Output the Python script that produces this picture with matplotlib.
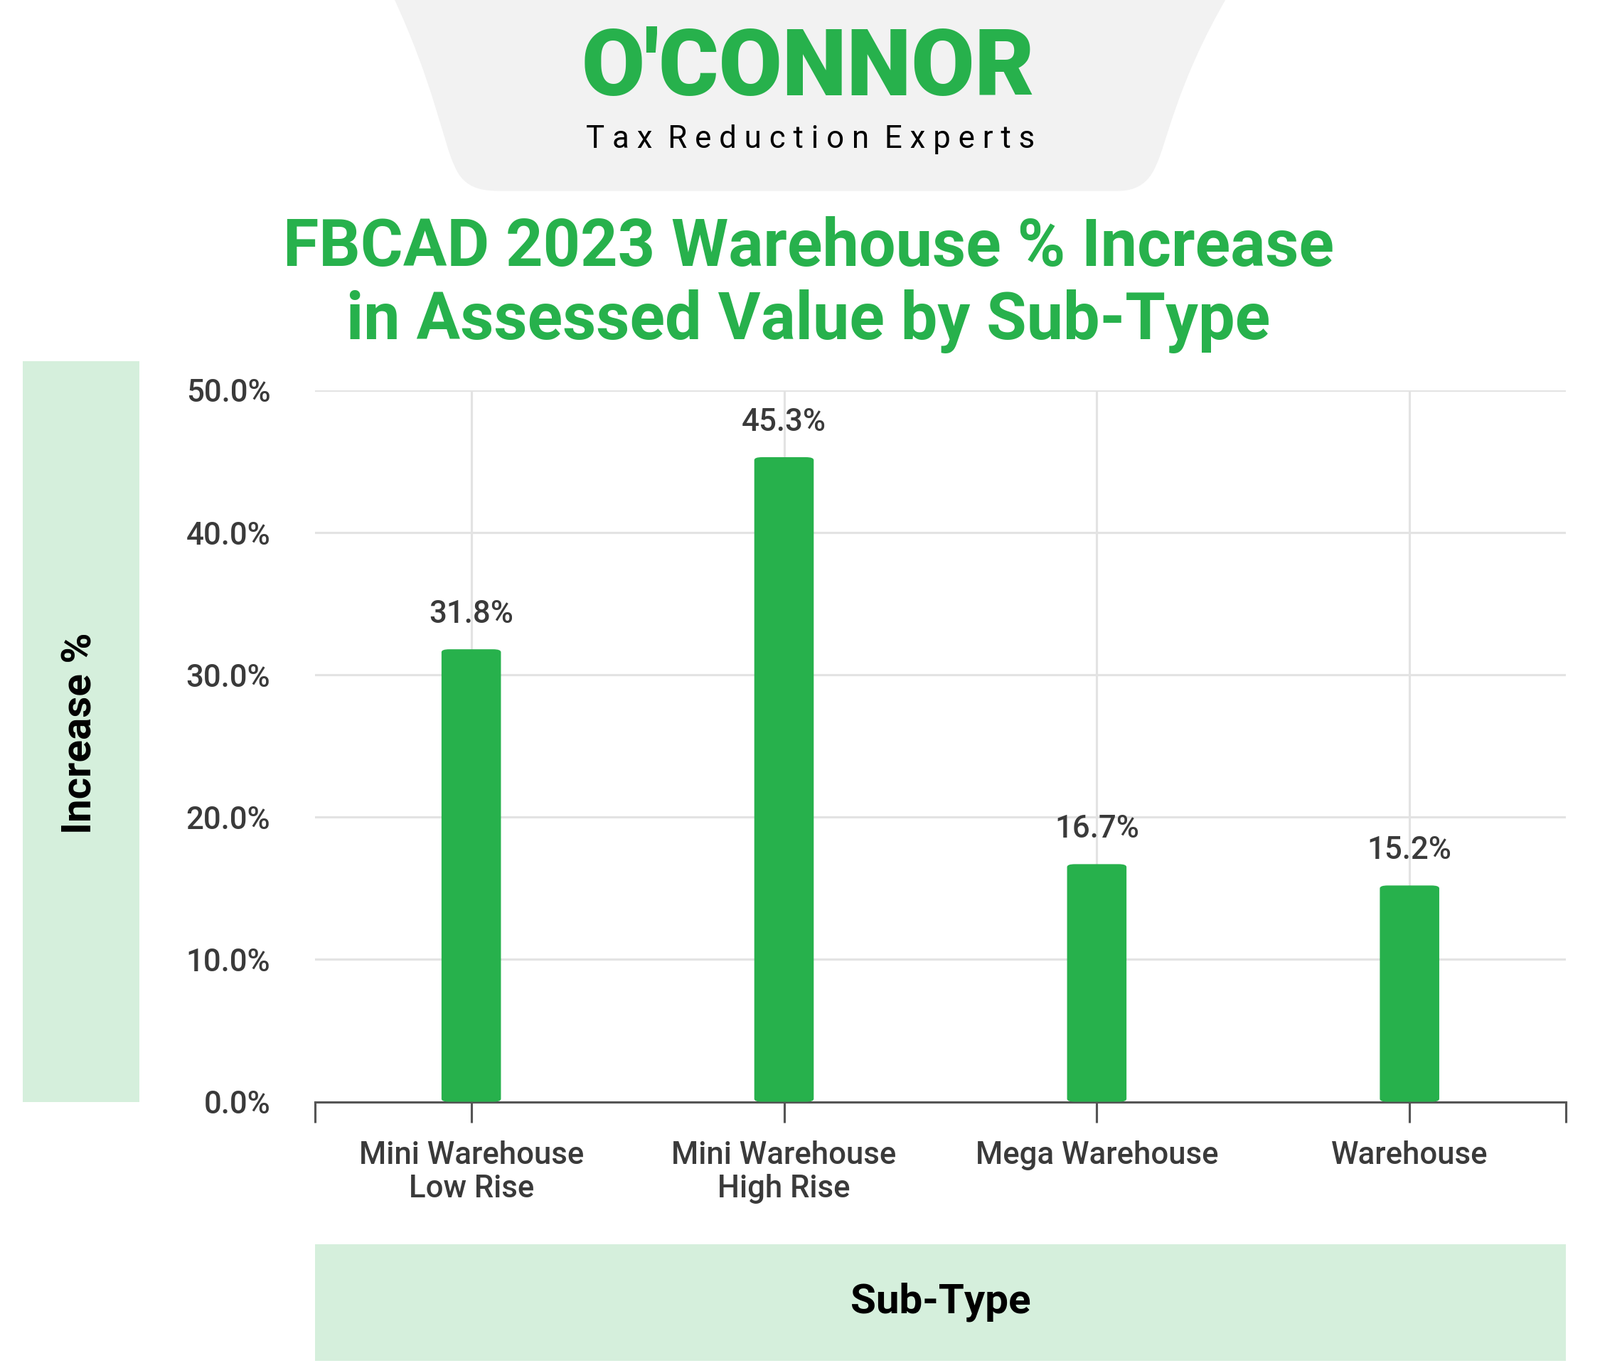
import matplotlib.pyplot as plt
from matplotlib.patches import Rectangle, FancyBboxPatch, PathPatch
from matplotlib.path import Path
import numpy as np

categories = ["Mini Warehouse\nLow Rise", "Mini Warehouse\nHigh Rise", "Mega Warehouse", "Warehouse"]
values = [31.8, 45.3, 16.7, 15.2]
value_labels = ["31.8%", "45.3%", "16.7%", "15.2%"]
yticks = [0, 10, 20, 30, 40, 50]

W, H = 1550.0, 1320.0
def fx(x): return x / W
def fy(y): return 1 - y / H

green = "#27b14c"
panel = "#d5efdc"
txt = "#3a3a3a"
plt.rcParams["font.family"] = "Roboto"

fig = plt.figure(figsize=(15, 12.78), dpi=150)

# logo background with curved sides
verts = [(380, -5), (1190, -5),
         (1140, 80), (1130, 140), (1120, 160),
         (1110, 185), (1090, 185), (1080, 185),
         (490, 185), (470, 185), (450, 185),
         (440, 160), (430, 140), (420, 80), (380, -5), (380, -5)]
codes = [Path.MOVETO, Path.LINETO,
         Path.CURVE4, Path.CURVE4, Path.CURVE4,
         Path.CURVE4, Path.CURVE4, Path.CURVE4,
         Path.LINETO, Path.CURVE4, Path.CURVE4,
         Path.CURVE4, Path.CURVE4, Path.CURVE4, Path.CURVE4, Path.CLOSEPOLY]
fig.patches.append(PathPatch(Path([(fx(a), fy(b)) for a, b in verts], codes),
                             transform=fig.transFigure, fc="#f2f2f2", ec="none"))
fig.text(fx(783), fy(68), "O'CONNOR", color=green, fontsize=62, fontweight="black",
         ha="center", va="center")
fig.text(fx(785), fy(135), "  ".join(" ".join(w) for w in "Tax Reduction Experts".split()),
         color="black", fontsize=21, ha="center", va="center")

fig.text(fx(783), fy(276), "FBCAD 2023 Warehouse % Increase\nin Assessed Value by Sub-Type",
         color=green, fontsize=44, fontweight="bold", ha="center", va="center", linespacing=1.2)

# label panels
fig.patches.append(Rectangle((fx(22), fy(1067)), fx(113), (1067 - 350) / H,
                             transform=fig.transFigure, fc=panel, ec="none"))
fig.text(fx(78), fy(710), "Increase %", rotation=90, fontsize=28, fontweight="bold",
         ha="center", va="center")
fig.patches.append(Rectangle((fx(305), fy(1318)), fx(1212), (1318 - 1205) / H,
                             transform=fig.transFigure, fc=panel, ec="none"))
fig.text(fx(911), fy(1261), "Sub-Type", fontsize=28, fontweight="bold", ha="center", va="center")

ax = fig.add_axes([fx(305), fy(1067), fx(1212), (1067 - 378) / H])
x = np.arange(len(categories))
for xi, v, lab in zip(x, values, value_labels):
    ax.add_patch(FancyBboxPatch((xi - 0.095, 0), 0.19, v, boxstyle="round,pad=0,rounding_size=0.025",
                                mutation_aspect=8, fc=green, ec="none", zorder=3))
    ax.text(xi, v + 1.4, lab, ha="center", va="bottom", fontsize=21, fontweight="medium",
            color=txt, zorder=4)
ax.set_xlim(-0.5, 3.5)
ax.set_ylim(0, 50)
ax.set_yticks(yticks)
ax.set_yticklabels([f"{t:.1f}%" for t in yticks], fontsize=21, fontweight="medium", color=txt)
ax.set_xticks([-0.5, 0, 1, 2, 3, 3.5])
ax.set_xticklabels([""] + categories + [""], fontsize=21, fontweight="medium", color=txt,
                   linespacing=1.15)
ax.tick_params(axis="y", length=0, pad=30)
ax.tick_params(axis="x", length=14, width=1.5, color="#555555", pad=12)
ax.grid(True, color="#e3e3e3", lw=1.5, zorder=0)
for s in ["top", "right", "left"]:
    ax.spines[s].set_visible(False)
ax.spines["bottom"].set_color("#555555")
ax.spines["bottom"].set_linewidth(1.5)
ax.set_axisbelow(True)
xg = ax.get_xgridlines()
xg[0].set_visible(False)
xg[-1].set_visible(False)

fig.savefig("out.png", dpi=150, facecolor="white")
